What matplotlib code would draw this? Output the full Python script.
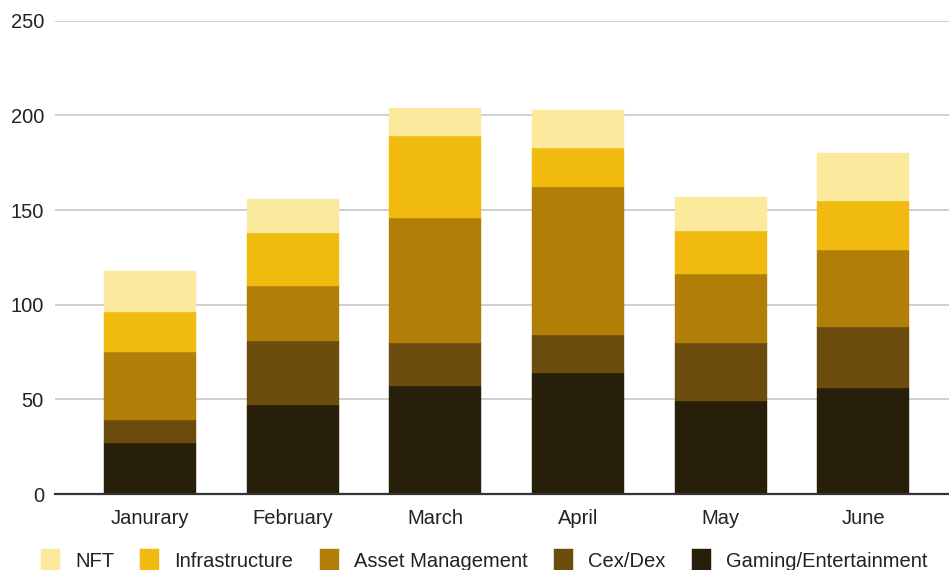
import numpy as np
import matplotlib
matplotlib.use("Agg")
from matplotlib import pyplot as plt

# values (per month, stacked bottom -> top)
months = ["Janurary", "February", "March", "April", "May", "June"]
gaming = [27, 47, 57, 64, 49, 56]
cex_dex = [12, 34, 23, 20, 31, 32]
asset_mgmt = [36, 29, 66, 78, 36, 41]
infrastructure = [21, 28, 43, 21, 23, 26]
nft = [22, 18, 15, 20, 18, 25]

series = [
    ("Gaming/Entertainment", gaming, "#281f0b"),
    ("Cex/Dex", cex_dex, "#6b4c0c"),
    ("Asset Management", asset_mgmt, "#b17e07"),
    ("Infrastructure", infrastructure, "#f1ba0f"),
    ("NFT", nft, "#fbe99d"),
]

plt.rcParams['font.family'] = ['Liberation Sans', 'DejaVu Sans']

fig = plt.figure(figsize=(9.49, 5.7), dpi=100)
ax = fig.add_axes([55 / 949, 76 / 570, 1 - 55 / 949, (494 - 20.7) / 570])

x = np.arange(len(months))
bottom = np.zeros(len(months))
handles = {}
for name, vals, color in series:
    bars = ax.bar(x, vals, width=0.645, bottom=bottom, color=color, zorder=3,
                  edgecolor=color, linewidth=0.3)
    handles[name] = bars
    bottom += np.array(vals)

ax.set_xlim(-0.665, 5.6)
ax.set_ylim(0, 250)
ax.set_yticks([0, 50, 100, 150, 200, 250])
ax.set_xticks(x)
ax.set_xticklabels(months)
ax.tick_params(axis='both', length=0, labelsize=14.5, colors="#222222")
ax.tick_params(axis='x', pad=10.5)
ax.tick_params(axis='y', pad=8)

ax.grid(axis='y', color="#cccccc", linewidth=1.3, zorder=0)
for s in ["top", "right", "left"]:
    ax.spines[s].set_visible(False)
ax.spines["bottom"].set_color("#333333")
ax.spines["bottom"].set_linewidth(1.6)
ax.spines["bottom"].set_zorder(4)

order = ["NFT", "Infrastructure", "Asset Management", "Cex/Dex", "Gaming/Entertainment"]
fig.legend([handles[n] for n in order], order, loc='center', ncol=5,
           bbox_to_anchor=(0.51, 1 - 560 / 570), frameon=False,
           fontsize=14.5, handlelength=0.95, handleheight=1.3,
           handletextpad=0.75, columnspacing=1.3, labelcolor="#222222")

fig.savefig("out.png", dpi=100)
